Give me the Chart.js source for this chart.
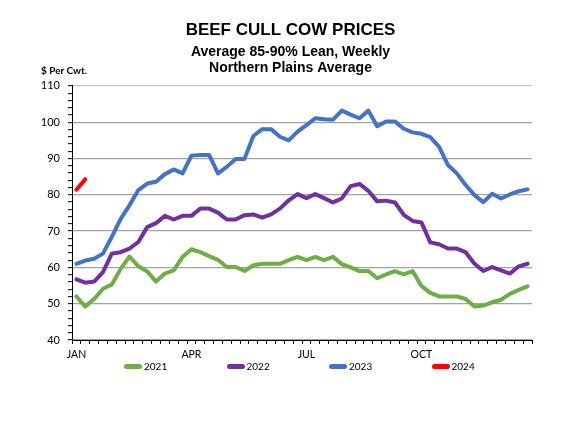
<!DOCTYPE html>
<html>
<head>
<meta charset="utf-8">
<script src="https://cdn.jsdelivr.net/npm/chart.js@4.4.1/dist/chart.umd.min.js"></script>
<style>
  html, body { margin: 0; padding: 0; background: #fff; }
  #wrap { position: relative; width: 581px; height: 436px; overflow: hidden; }
  #c { position: absolute; left: 0; top: 0; }
  #unit { position: absolute; left: 41px; top: 64px; font: bold 10px Lato, "DejaVu Sans", sans-serif; color: #000; white-space: nowrap; }
  #legend { position: absolute; left: 124px; top: 360px; display: flex; }
  .item { width: 102.5px; height: 12px; display: flex; align-items: center; font: 10px Lato, sans-serif; color: #000; }
  .sw { width: 18px; height: 5px; border-radius: 2.5px; margin-right: 2px; }
</style>
</head>
<body>
<div id="wrap">
  <canvas id="c" width="581" height="436"></canvas>
  <div id="unit">$ Per Cwt.</div>
  <div id="legend"></div>
</div>
<script>
// ---- data ----
const titleText = "BEEF CULL COW PRICES";
const subtitleLines = ["Average 85-90% Lean, Weekly", "Northern Plains Average"];
const unitLabel = "$ Per Cwt.";

// 52 weekly categories; month names shown at the first week of each quarter
const weeks = [1,2,3,4,5,6,7,8,9,10,11,12,13,14,15,16,17,18,19,20,21,22,23,24,25,26,
               27,28,29,30,31,32,33,34,35,36,37,38,39,40,41,42,43,44,45,46,47,48,49,50,51,52];
const monthTickWeeks = [1, 14, 27, 40];
const monthTickNames = ["JAN", "APR", "JUL", "OCT"];

const seriesNames = ["2021", "2022", "2023", "2024"];
const seriesColors = ["#70AD47", "#7030A0", "#4472C4", "#FF0000"];

const prices2021 = [52.0, 49.2, 51.3, 54.1, 55.3, 59.6, 63.0, 60.3, 58.9, 56.1,
                    58.3, 59.2, 62.9, 65.0, 64.2, 63.1, 62.1, 60.1, 60.1, 59.0,
                    60.6, 61.0, 61.0, 61.0, 62.0, 62.9, 62.0, 62.9, 62.0, 62.9,
                    60.9, 60.0, 59.0, 59.0, 57.0, 58.1, 59.0, 58.1, 59.0, 54.9,
                    53.0, 52.0, 52.0, 52.0, 51.3, 49.2, 49.5, 50.4, 51.1, 52.7,
                    53.8, 54.8];
const prices2022 = [56.7, 55.8, 56.1, 58.7, 63.8, 64.2, 65.2, 67.0, 71.1, 72.2,
                    74.2, 73.2, 74.2, 74.2, 76.2, 76.2, 75.1, 73.2, 73.2, 74.4,
                    74.6, 73.7, 74.6, 76.2, 78.5, 80.2, 79.1, 80.2, 79.1, 77.9,
                    79.0, 82.4, 83.0, 81.1, 78.2, 78.4, 77.9, 74.5, 72.8, 72.4,
                    66.9, 66.4, 65.2, 65.2, 64.2, 61.0, 59.0, 60.1, 59.2, 58.3,
                    60.3, 61.0];
const prices2023 = [61.0, 61.9, 62.4, 63.8, 68.4, 73.4, 77.1, 81.3, 83.1, 83.6,
                    85.7, 87.0, 85.9, 90.8, 91.0, 91.0, 85.9, 87.7, 89.9, 89.9,
                    96.2, 98.1, 98.1, 96.0, 95.0, 97.4, 99.2, 101.1, 100.8, 100.7,
                    103.2, 102.1, 101.1, 103.2, 98.9, 100.2, 100.2, 98.2, 97.2, 96.8,
                    95.9, 93.2, 88.2, 85.9, 82.7, 79.9, 78.0, 80.3, 79.0, 80.1,
                    81.0, 81.5];
const prices2024 = [81.4, 84.3];

const yMin = 40, yMax = 110, yMajorStep = 10, yMinorStep = 2;

// ---- chart ----
const seriesData = [prices2021, prices2022, prices2023, prices2024];
const datasets = seriesNames.map((name, k) => ({
  label: name,
  data: seriesData[k],
  borderColor: seriesColors[k],
  backgroundColor: seriesColors[k],
  borderWidth: 4,
  pointRadius: 0,
  pointHoverRadius: 0,
  tension: 0,
  fill: false,
  borderCapStyle: 'round',
  borderJoinStyle: 'round',
  yAxisID: 'y'
}));

const tickFont = { family: 'Lato, "DejaVu Sans", sans-serif', size: 11 };

new Chart(document.getElementById('c'), {
  type: 'line',
  data: { labels: weeks, datasets: datasets },
  options: {
    responsive: false,
    animation: false,
    events: [],
    layout: { padding: { left: 0, right: 0, top: 0, bottom: 76 } },
    plugins: {
      legend: { display: false },
      tooltip: { enabled: false },
      title: {
        display: true,
        text: titleText,
        color: '#000',
        font: { family: '"Liberation Sans", Arial, sans-serif', size: 17, weight: 'bold', lineHeight: 1.2 },
        padding: { top: 19.8, bottom: 0 }
      },
      subtitle: {
        display: true,
        text: subtitleLines,
        color: '#000',
        font: { family: '"Liberation Sans", Arial, sans-serif', size: 14, weight: 'bold', lineHeight: 1.18 },
        padding: { top: 3.2, bottom: 9.5 }
      }
    },
    scales: {
      x: {
        type: 'category',
        offset: true,
        grid: { offset: true, drawOnChartArea: false, tickLength: 4, tickColor: '#000', tickWidth: 1 },
        border: { color: '#000', width: 1 },
        ticks: {
          autoSkip: false, maxRotation: 0, minRotation: 0, padding: 4, color: '#000',
          font: { family: 'Lato, "DejaVu Sans", sans-serif', size: 10.5 },
          callback: function (value, index) {
            const w = weeks[index];
            const m = monthTickWeeks.indexOf(w);
            return m >= 0 ? monthTickNames[m] : '';
          }
        },
        afterFit: function (s) { s.height = 20; }
      },
      y: {
        type: 'linear',
        position: 'left',
        min: yMin,
        max: yMax,
        grid: {
          color: function (c) {
            if (!c.tick || c.tick.value % yMajorStep !== 0) return 'rgba(0,0,0,0)';
            return c.tick.value === yMax ? '#c6c6c6' : '#a3a3a3';
          },
          lineWidth: 1.3,
          tickColor: '#000',
          tickLength: 4,
          tickWidth: 1
        },
        border: { color: '#000', width: 1 },
        ticks: {
          stepSize: yMinorStep,
          autoSkip: false,
          padding: 8,
          color: '#000',
          font: tickFont,
          callback: function (v) { return v % yMajorStep === 0 ? String(v) : ''; }
        },
        afterFit: function (s) { s.width = 72; }
      },
      yRightSpace: {
        type: 'linear',
        position: 'right',
        display: true,
        grid: { display: false, drawOnChartArea: false, drawTicks: false },
        border: { display: false },
        ticks: { display: false },
        afterFit: function (s) { s.width = 49; }
      }
    }
  }
});

// ---- legend (HTML) ----
document.getElementById('unit').textContent = unitLabel;
const leg = document.getElementById('legend');
seriesNames.forEach((name, k) => {
  const it = document.createElement('div');
  it.className = 'item';
  const sw = document.createElement('span');
  sw.className = 'sw';
  sw.style.background = seriesColors[k];
  const tx = document.createElement('span');
  tx.textContent = name;
  it.appendChild(sw);
  it.appendChild(tx);
  leg.appendChild(it);
});
</script>
</body>
</html>
